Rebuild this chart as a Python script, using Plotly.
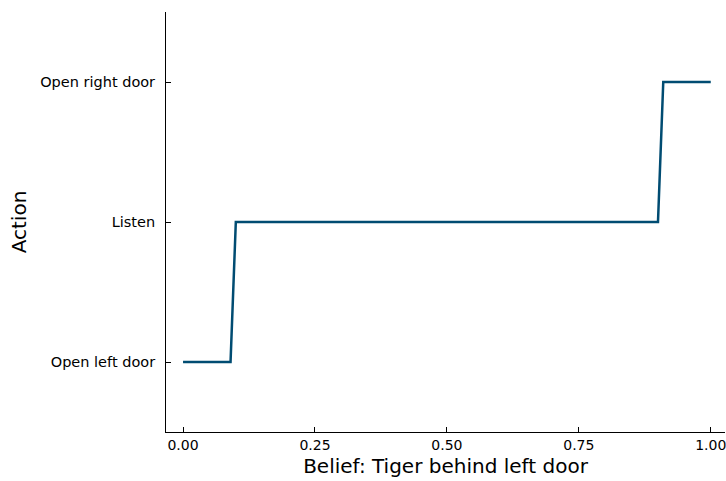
import plotly.graph_objects as go

belief = [0.0, 0.09, 0.10, 0.90, 0.91, 1.0]
action = [0, 0, 1, 1, 2, 2]
action_vals = [0, 1, 2]
action_labels = ["Open left door", "Listen", "Open right door"]
x_ticks = [0.0, 0.25, 0.5, 0.75, 1.0]
x_tick_labels = ["0.00", "0.25", "0.50", "0.75", "1.00"]

fig = go.Figure()
fig.add_trace(go.Scatter(x=belief, y=action, mode="lines",
                         line=dict(color="#004c72", width=2.5), showlegend=False))

font = "DejaVu Sans"
fig.update_layout(
    width=726, height=481,
    margin=dict(l=166, r=1, t=12, b=49, autoexpand=False),
    plot_bgcolor="white", paper_bgcolor="white",
    font=dict(family=font, color="black"),
)
fig.update_xaxes(
    range=[-0.0323, 1.027], tickvals=x_ticks, ticktext=x_tick_labels,
    ticks="inside", ticklen=5, tickcolor="black", showline=True, linecolor="black",
    linewidth=1, showgrid=False, zeroline=False, tickfont=dict(size=14, family=font),
    automargin=False, ticklabeloverflow="allow",
    title=dict(text="Belief: Tiger behind left door", font=dict(size=20, family=font), standoff=7),
)
fig.update_yaxes(
    range=[-0.5, 2.5], tickvals=action_vals, ticktext=action_labels,
    ticks="inside", ticklen=5, tickcolor="black", showline=True, linecolor="black",
    linewidth=1, showgrid=False, zeroline=False, tickfont=dict(size=14.5, family=font),
    automargin=False, ticklabeloverflow="allow",
    ticklabelstandoff=7,
    title=dict(text="Action", font=dict(size=20, family=font), standoff=8),
)
fig.write_html(
    "out.html",
    config={"displayModeBar": False},
    post_script="document.body.style.margin='0px';document.body.style.overflow='hidden';",
)
